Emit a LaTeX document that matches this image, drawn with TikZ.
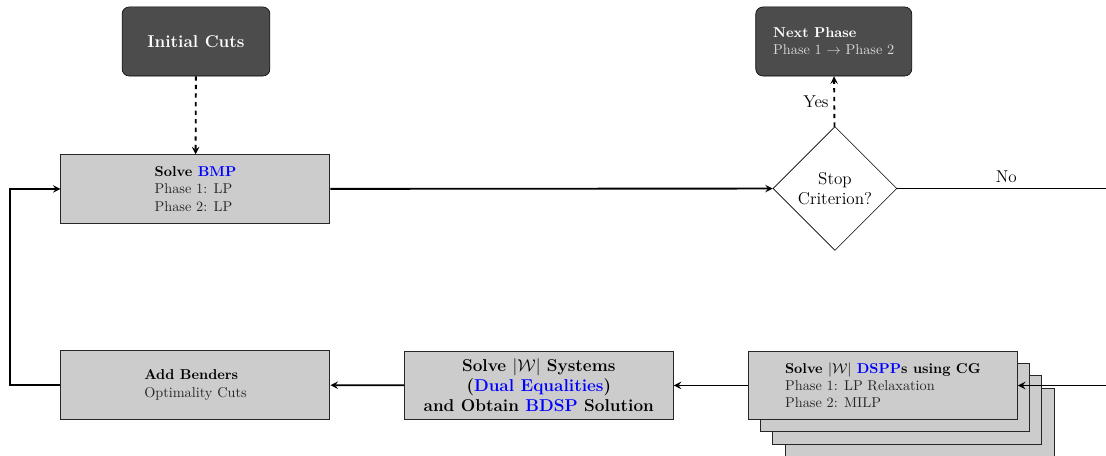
\documentclass[tikz,border=0pt]{standalone}
\usepackage{tikz}
\usetikzlibrary{shapes.geometric}

\newcommand{\hl}[1]{\textcolor{blue}{#1}}

\begin{document}
\begin{tikzpicture}[>=stealth,
  box/.style={rectangle, draw=black!85, line width=0.7pt, fill=black!20, text=black!85, minimum width=6.62cm, minimum height=1.68cm, align=left},
  dark/.style={rectangle, rounded corners=5pt, draw=black, fill=black!70, text=white, minimum height=1.70cm},
  flow/.style={line width=1.3pt, ->}]
\useasboundingbox (0,0) rectangle (27.22,-11.22);
\clip (0,0) rectangle (27.22,-11.22);
\node[dark, minimum width=3.64cm, font=\large\bfseries] (1) at (4.824, -1.021) {Initial Cuts};
\node[box] (2) at (4.811, -4.651) {\textbf{\color{black}Solve \hl{BMP}}\\Phase 1: LP\\Phase 2: LP};
\node[diamond, draw, aspect=1, minimum size=3.05cm, inner sep=0pt, align=center, font=\large] (3) at (20.55, -4.639) {Stop\\Criterion?};
\node[dark, minimum width=3.84cm, align=left] (4) at (20.52, -1.021) {\textbf{Next Phase}\\\color{white!85!black}Phase 1 $\rightarrow$ Phase 2};
\node[box] (5) at (4.811, -9.475) {\textbf{\color{black}Add Benders}\\Optimality Cuts};
\node[box, align=center, text=black, font=\large\bfseries] (6) at (13.26, -9.487) {Solve $|\mathcal{W}|$ Systems\\(\hl{Dual Equalities})\\and Obtain \hl{BDSP} Solution};
\node[box] (7c) at (22.64, -10.396) {};
\node[box] (7b) at (22.33, -10.093) {};
\node[box] (7a) at (22.03, -9.790) {};
\node[box] (7) at (21.73, -9.487) {\textbf{\color{black}Solve $|\mathcal{W}|$ \hl{DSPP}s using CG}\\Phase 1: LP Relaxation\\Phase 2: MILP};
\coordinate (l) at (0.246, -9.475);
\coordinate (r) at (27.45, -4.639);
\draw[flow, dashed] (1) -- (2);
\draw[flow] (2) -- (3);
\draw[flow, dashed] (3) -- node[left, font=\large] {Yes} (4);
\draw[flow] (3.east) -- node[above, font=\large] {No} (r) |- (7.east);
\draw[flow] (7) -- (6);
\draw[flow] (6) -- (5);
\draw[flow] (5.west) -- (l) |- (2.west);
\end{tikzpicture}
\end{document}
